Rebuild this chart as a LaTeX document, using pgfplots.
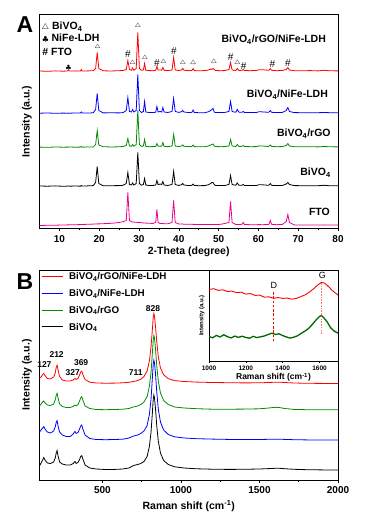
\documentclass[border=0pt]{standalone}
\usepackage{pgfplots}
\pgfplotsset{compat=1.18}
\usepackage{pgfplotstable}
\usepackage{fontspec}
\setmainfont{Liberation Sans}
\colorlet{cR}{red}
\colorlet{cB}{blue}
\colorlet{cG}{green!55!black}
\colorlet{cM}{magenta}
\colorlet{cDG}{green!40!black}
\colorlet{cP}{red!55}
\newcommand{\tri}{{\fontsize{6.5}{6.5}\selectfont$\triangle$}}
\newcommand{\hs}{{\fontsize{10}{10}\selectfont\#}}
\newcommand{\clb}{{\fontsize{6.5}{6.5}\selectfont$\clubsuit$}}
\newcommand{\lgline}[1]{\textcolor{#1}{\rule[0.3em]{21pt}{1pt}}\hspace{6pt}}

% XRD: offsets above each trace's baseline
\pgfplotstableread{
x r b g k f
5 0.5 0.3 0.4 0.5 0
7 0.2 0.5 0.2 0.3 0.2
9 0.6 0.2 0.5 0.6 0.3
11 0.3 0.4 0.3 0.2 0.5
12 0.5 0.3 0.4 0.4 0.6
12.3 1.5 0.4 0.3 0.5 0.6
12.6 0.4 0.3 0.5 0.3 0.7
14 0.6 0.5 0.3 0.5 0.8
15.3 0.5 0.4 0.4 0.3 0.9
15.5 2.0 1.5 1.2 1.0 0.9
15.7 0.4 0.5 0.3 0.4 1.0
17 0.6 0.4 0.5 0.6 1.2
18.5 0.8 0.7 0.6 0.9 1.4
19.1 3 4 3 4 1.5
19.5 19 20 17 20 1.6
19.9 3 3 2.5 3 1.6
21 0.7 0.6 0.8 0.7 1.8
23 0.5 0.7 0.5 0.8 2.2
25 0.8 0.6 0.7 0.9 3.0
26 1.0 0.9 1.0 1.2 3.8
26.8 2 3 2 3 5
27.2 11 16 9 14 33
27.6 2 2 1.5 2 5
28.1 1.2 1.5 1.2 1.5 3.8
28.4 3.5 4 3 3.5 3.5
28.7 1.2 1.5 1.3 1.4 3.4
29.3 3 3 3 3 3.2
29.7 39 39 37 34 3.1
30.1 3 3 3 3 3.0
30.6 1.2 1.0 1.1 1.3 2.8
31.1 1.5 2 1.5 2 2.6
31.4 8 12 8 8 2.5
31.7 1.3 1.5 1.2 1.5 2.4
32.5 0.9 1.0 0.8 1.0 2.2
33.5 0.8 0.9 0.9 1.0 2.1
34.2 1.2 1.3 1.0 1.5 3
34.5 5 7 4 6 16
34.8 1.5 1.5 1.2 1.8 3
35.3 1.5 2.0 1.4 2.5 2.0
35.7 1.3 1.5 1.2 2.0 1.9
36.0 4 6 5 5 1.9
36.3 1.2 1.5 1.2 1.5 1.8
37.2 0.9 1.0 0.8 1.0 1.7
38.3 1.5 2 1.5 2 3
38.7 14 15 13 15 25
39.1 1.5 2 1.5 2 3
40 1.0 1.1 0.9 1.0 1.5
40.7 1.5 1.8 1.5 1.8 1.4
41.0 3 3 2.5 3 1.4
41.3 1.3 1.5 1.3 1.5 1.3
42.5 0.8 0.9 0.8 0.9 1.2
43.3 1.0 1.2 1.0 1.2 1.2
43.6 3 3.5 2.5 2.5 1.1
43.9 0.9 1.0 0.9 1.0 1.1
45 0.7 0.8 0.7 0.8 1.0
46.5 0.9 0.8 0.8 0.9 1.0
47.5 1.5 1.8 1.5 1.8 1.0
48.0 2.5 3 2.5 3 1.0
48.3 2 4 3 4 1.0
48.6 3 5 3.5 4 0.9
48.9 2 1.5 1.5 2 0.9
49.2 1.0 1.0 1.0 1.1 0.9
50.5 0.8 0.9 0.8 0.9 1.2
51.5 0.9 1.0 0.9 1.0 2
52.6 2 2 1.5 2 3
53.0 9 12 8 11 24
53.4 1.5 2 1.5 2 3
54.3 1.0 1.2 1.0 1.2 1.0
54.7 3 4 3 3.5 1.0
55.1 1.0 1.2 1.0 1.2 1.0
55.9 1.2 1.3 1.2 1.3 1.2
56.2 2 2 2 2 3
56.5 1.0 1.0 1.0 1.0 1.0
58 0.8 0.9 0.8 0.9 0.8
59.5 1.0 1.0 0.9 1.0 0.8
60.2 1.8 1.8 1.6 1.8 0.9
61 1.8 1.6 1.5 1.7 0.8
62.5 1.2 1.2 1.0 1.2 1.0
62.7 1.5 1.5 1.4 1.5 1.5
63.0 3 3 2.5 3 5
63.3 1.2 1.2 1.1 1.2 1.2
64.5 0.8 0.9 0.8 0.9 0.8
66 1.0 1.0 0.9 1.0 1.0
67.0 2 3 2 2.5 4
67.4 4 6 4 4 11
67.8 1.5 2 1.5 2 3
69 0.8 0.9 0.8 0.9 0.6
71 0.7 0.8 0.7 0.8 0.5
73 0.9 0.7 0.8 0.7 0.5
75 0.6 0.8 0.6 0.8 0.4
76.5 1.2 1.0 1.0 1.2 0.6
78 0.7 0.8 0.7 0.7 0.4
80 0.6 0.7 0.6 0.7 0.4
}\xrd

% Raman: offsets above each trace's baseline
\pgfplotstableread{
x r g b k
100 5.3 4 8 4
110 6.5 6 10 7
120 9 8 12 10
127 10 9 13.4 12.4
135 8 7 11 10
150 5 5 8 7
170 4.5 4.5 7 6.5
190 6.5 6 9 8
200 10.5 10 13 12
207 16.5 15 18 17.5
212 18.3 16.7 19.4 19.4
218 13.5 12 14 14
228 7 6 8 8
245 3.5 3.5 5 6
270 2.5 2.5 3.5 5
295 2.5 2.5 3.5 5
315 3.5 3.5 6 6.5
322 4.6 4.8 8 8
327 5 5 8.4 8.4
333 4 4 6.5 6.5
345 5 5.5 7.5 7.5
355 8.5 9 11 10.5
362 11.5 12 14 13.5
369 12.3 13.4 15 14.4
376 9 10 11 11
390 4 4 5 5
420 1.3 1.5 1.5 2
460 0.5 0.5 0.5 1
520 0.3 0.3 0.3 0.5
580 0.4 0.5 0.5 0.6
630 0.7 0.8 0.8 1
670 1.2 1.5 2 2
695 2 3 3.8 4.2
711 2.4 3.4 4.4 5
725 3 4 5 5.5
745 4.3 5.5 6.5 6.5
765 7 8 9 8.5
785 12.5 13.5 14.5 13.5
800 23 24 26 24
810 37 38 41 38
818 53 56 61 56
824 66.5 70 76 71
828 70 74.4 80 75
832 67.5 72 77 72
838 58 62 67 62
846 42.5 45 49 45
856 27 29 31 29
870 15.5 17 18 17
890 8.7 9.5 10 9.5
920 4.8 5.5 5.5 5.5
960 2.9 3 3.2 3.2
1020 2 2 2 2
1100 1.4 1.3 1.3 1.2
1200 1 0.8 0.9 0.8
1300 0.8 0.8 0.6 0.6
1400 0.6 0.9 0.4 0.7
1500 0.7 1.2 0.5 1
1560 1.0 2.0 0.7 1.4
1600 1.3 2.7 0.8 1.7
1630 1.3 2.4 0.8 1.7
1660 1.0 1.5 0.6 1.3
1720 0.5 0.6 0.3 0.7
1800 0.2 0.3 0.1 0.3
1900 0.1 0.2 0 0.1
2000 0 0.2 0 0
}\raman

\pgfplotstableread{
x y
1000 71.5
1025 72.3
1050 70.6
1075 71.2
1100 69.5
1125 69.9
1150 68.4
1175 68.8
1200 66.9
1225 67.4
1250 65.6
1275 65.9
1300 63.8
1325 64.2
1350 62.7
1375 63.4
1400 62.6
1425 62.9
1450 61.8
1475 62.6
1500 64.5
1525 66.4
1550 69.6
1570 72.6
1590 76.0
1610 78.6
1625 78.0
1640 75.9
1655 73.2
1670 70.3
1685 68.1
1700 66.0
}\insetred

\pgfplotstableread{
x y
1000 24.5
1020 23.2
1040 25.6
1060 24.0
1080 26.2
1100 24.3
1120 23.1
1140 24.9
1160 23.6
1180 24.8
1200 23.5
1220 22.8
1240 24.6
1260 23.4
1280 24.2
1300 25.0
1320 26.4
1340 27.8
1360 26.6
1380 27.2
1400 25.4
1420 24.0
1440 22.9
1460 23.8
1480 25.2
1500 27.6
1520 29.8
1540 32.5
1560 36.4
1580 40.8
1600 44.6
1610 45.4
1620 43.8
1640 39.5
1660 33.2
1680 29.8
1700 27.9
}\insetgreen

\pgfplotsset{
  myaxis/.style={
    scale only axis,
    anchor=south west,
    enlargelimits=false,
    ytick=\empty,
    tick align=outside,
    xtick pos=left,
    axis line style={line width=0.8pt},
    every tick/.style={black, line width=0.6pt},
    major tick length=3pt,
    minor tick length=1.8pt,
    /pgf/number format/assume math mode=true,
    /pgf/number format/1000 sep={},
    tick label style={font=\bfseries\fontsize{10}{12}\selectfont},
    label style={font=\bfseries\fontsize{10.5}{12}\selectfont},
    ylabel style={at={(axis description cs:-0.042,0.5)}, anchor=center},
  }
}

\begin{document}
\begin{tikzpicture}
\useasboundingbox (0pt,0pt) rectangle (365pt,524pt);

% ---------------- Panel A ----------------
\begin{axis}[myaxis,
  at={(39.5pt,295.5pt)},
  width=298.5pt, height=214pt,
  xmin=5, xmax=80, ymin=0, ymax=214,
  xtick={10,20,...,80}, minor x tick num=1,
  xlabel={2-Theta (degree)},
  ylabel={Intensity (a.u.)},
  xlabel style={yshift=2pt},
]
\addplot[color=cR, line width=0.8pt] table[x=x, y expr=\thisrow{r}+157] {\xrd};
\addplot[color=cB, line width=0.8pt] table[x=x, y expr=\thisrow{b}+115] {\xrd};
\addplot[color=cG, line width=0.8pt] table[x=x, y expr=\thisrow{g}+81] {\xrd};
\addplot[color=black, line width=0.8pt] table[x=x, y expr=\thisrow{k}+42] {\xrd};
\addplot[color=cM, line width=0.8pt] table[x=x, y expr=\thisrow{f}+3] {\xrd};

% sample names
\begin{scope}[every node/.style={font=\bfseries\fontsize{10.5}{12}\selectfont, anchor=east, inner sep=0pt}]
\node at (axis cs:77.0,189) {BiVO\textsubscript{4}/rGO/NiFe-LDH};
\node at (axis cs:77.5,134) {BiVO\textsubscript{4}/NiFe-LDH};
\node at (axis cs:78.2,95) {BiVO\textsubscript{4}/rGO};
\node at (axis cs:78.2,56) {BiVO\textsubscript{4}};
\node at (axis cs:78.0,17) {FTO};
\end{scope}

% key
\begin{scope}[every node/.style={font=\bfseries\fontsize{10.5}{12}\selectfont, anchor=west, inner sep=0pt}]
\node at (axis cs:5.5,202) {{\fontsize{8}{8}\selectfont$\triangle$} BiVO\textsubscript{4}};
\node at (axis cs:5.7,190) {{\fontsize{7}{7}\selectfont$\clubsuit$} NiFe-LDH};
\node at (axis cs:5.7,176.5) {\# FTO};
\end{scope}

% peak markers on the top trace
\begin{scope}[every node/.style={inner sep=0pt}]
\node at (axis cs:12.3,161) {\clb};
\node at (axis cs:19.6,181) {\tri};
\node at (axis cs:27.2,174) {\hs};
\node at (axis cs:28.4,165.5) {\tri};
\node at (axis cs:29.7,202) {\tri};
\node at (axis cs:31.5,170) {\tri};
\node at (axis cs:34.5,165.5) {\hs};
\node at (axis cs:36.1,166.5) {\tri};
\node at (axis cs:38.8,177) {\hs};
\node at (axis cs:41.0,165.5) {\tri};
\node at (axis cs:43.6,165.5) {\tri};
\node at (axis cs:48.8,166.5) {\tri};
\node at (axis cs:53.0,171) {\hs};
\node at (axis cs:54.7,165.5) {\tri};
\node at (axis cs:56.3,162) {\hs};
\node at (axis cs:63.5,164) {\hs};
\node at (axis cs:67.4,165.5) {\hs};
\end{scope}
\end{axis}

% ---------------- Panel B ----------------
\begin{axis}[myaxis,
  at={(39.5pt,44pt)},
  width=298.5pt, height=210pt,
  xmin=100, xmax=2000, ymin=0, ymax=210,
  xtick={500,1000,1500,2000}, minor x tick num=1,
  xlabel={Raman shift (cm\textsuperscript{-1})},
  ylabel={Intensity (a.u.)},
  legend style={at={(axis description cs:0.003,0.995)}, anchor=north west,
    draw=none, fill=none, font=\bfseries\fontsize{9.8}{11}\selectfont,
    row sep=6.2pt, inner sep=0.5pt, nodes={inner sep=1pt},
    /tikz/column sep=0pt},
  legend cell align=left,
  legend image code/.code={},
]
\addplot[color=cR, line width=0.8pt] table[x=x, y expr=\thisrow{r}+96.5] {\raman};
\addlegendentry{\lgline{cR}BiVO\textsubscript{4}/rGO/NiFe-LDH}
\addplot[color=cB, line width=0.8pt] table[x=x, y expr=\thisrow{b}+40] {\raman};
\addlegendentry{\lgline{cB}BiVO\textsubscript{4}/NiFe-LDH}
\addplot[color=cG, line width=0.8pt] table[x=x, y expr=\thisrow{g}+70] {\raman};
\addlegendentry{\lgline{cG}BiVO\textsubscript{4}/rGO}
\addplot[color=black, line width=0.8pt] table[x=x, y expr=\thisrow{k}+10] {\raman};
\addlegendentry{\lgline{black}BiVO\textsubscript{4}}

\coordinate (p127) at (axis cs:131,115.7);
\coordinate (p212) at (axis cs:209,125);
\coordinate (p327) at (axis cs:311,107.7);
\coordinate (p369) at (axis cs:365,117.3);
\coordinate (p711) at (axis cs:712,107.7);
\coordinate (p828) at (axis cs:822,171.7);
\end{axis}
\begin{scope}[every node/.style={font=\bfseries\fontsize{8.5}{10}\selectfont, inner sep=0pt}]
\node at (p127) {127};
\node at (p212) {212};
\node at (p327) {327};
\node at (p369) {369};
\node at (p711) {711};
\node at (p828) {828};
\end{scope}

% ---------------- Inset ----------------
\begin{axis}[myaxis,
  at={(209pt,163pt)},
  width=129pt, height=91pt,
  xmin=1000, xmax=1700, ymin=0, ymax=91,
  xtick={1000,1200,1400,1600}, minor x tick num=1,
  major tick length=2pt, minor tick length=1.2pt,
  tick label style={font=\bfseries\fontsize{6.5}{7}\selectfont},
  xlabel={Raman shift (cm\textsuperscript{-1})},
  ylabel={Intensity (a.u.)},
  xlabel style={font=\bfseries\fontsize{8.5}{10}\selectfont, yshift=4pt},
  ylabel style={font=\bfseries\fontsize{6}{7}\selectfont, at={(axis description cs:-0.055,0.5)}},
  xticklabel style={yshift=1pt},
]
\addplot[color=cR, line width=0.9pt] table[x=x, y=y] {\insetred};
\addplot[color=cDG, line width=1.3pt] table[x=x, y=y] {\insetgreen};
\coordinate (dmid) at (axis cs:1350,43.5);
\coordinate (gmid) at (axis cs:1612,52);
\coordinate (dlab) at (axis cs:1352,75.5);
\coordinate (glab) at (axis cs:1615,86);
\end{axis}
% dashed guide lines for D and G bands (set as coloured rules)
\node[inner sep=0pt] at (dmid) {\textcolor{red}{\vbox to 51pt{\xleaders\vbox{\hrule width 0.8pt height 2.5pt depth 0pt\vskip1.5pt}\vfil}}};
\node[inner sep=0pt] at (gmid) {\textcolor{cP}{\vbox to 52pt{\xleaders\vbox{\hrule width 0.9pt height 1.6pt depth 0pt\vskip1.1pt}\vfil}}};
\node[font=\fontsize{9}{10}\selectfont, inner sep=0pt] at (dlab) {D};
\node[font=\fontsize{9}{10}\selectfont, inner sep=0pt] at (glab) {G};

% panel letters
\node[font=\bfseries\fontsize{23}{26}\selectfont, inner sep=0pt] at (25pt,499pt) {A};
\node[font=\bfseries\fontsize{23}{26}\selectfont, inner sep=0pt] at (25pt,242pt) {B};
\end{tikzpicture}
\end{document}
